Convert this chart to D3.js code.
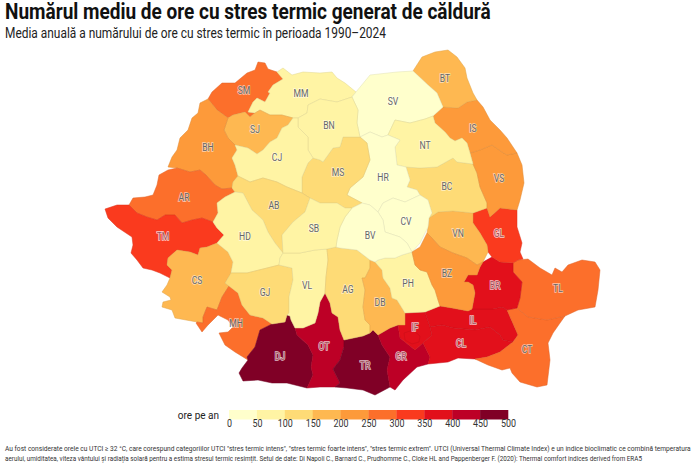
<!DOCTYPE html>
<html>
<head>
<meta charset="utf-8">
<script src="https://cdn.jsdelivr.net/npm/d3@7"></script>
<style>
  html, body { margin: 0; padding: 0; background: #fff; }
  svg { display: block; }
  text { font-family: Roboto, sans-serif; }
</style>
</head>
<body>
<svg id="chart" width="700" height="465"></svg>
<script>
// county codes and average hours per year
const countyCodes = ['SM','MM','SJ','BH','AR','TM','CS','MH','DJ','OT','TR','GR','IF','B','IL','CL','CT','TL','BR','GL','VN','BC','VS','IS','BT','SV','NT','HR','CV','MS','BN','CJ','AB','HD','GJ','VL','AG','DB','PH','BZ','BV','SB'];
const countyValues = [275,70,170,225,270,320,170,270,470,420,480,430,370,365,375,380,275,280,370,320,175,125,220,225,175,30,75,20,25,120,70,75,120,80,110,85,110,175,80,210,40,80];

const binEdges = [0,50,100,150,200,250,300,350,400,450,500];
const binColors = ['#ffffcc','#fff4a4','#fedb76','#feb851','#fd9a3a','#fc6f2b','#fa3a1e','#e2101b','#bd0026','#800026'];

const titleText = 'Numărul mediu de ore cu stres termic generat de căldură';
const subtitleText = 'Media anuală a numărului de ore cu stres termic în perioada 1990–2024';
const legendTitle = 'ore pe an';
const footerLines = [
  'Au fost considerate orele cu UTCI ≥ 32 °C, care corespund categoriilor UTCI "stres termic intens", "stres termic foarte intens", "stres termic extrem". UTCI (Universal Thermal Climate Index) e un indice bioclimatic ce combină temperatura',
  'aerului, umiditatea, viteza vântului și radiația solară pentru a estima stresul termic resimțit. Setul de date: Di Napoli C., Barnard C., Prudhomme C., Cloke HL and Pappenberger F. (2020): Thermal comfort indices derived from ERA5'
];

const countyOutlines = {
  SM: [[258,62],[265,63],[268,69],[277,72],[283,79],[273,85],[268,92],[270,93],[265,102],[257,98],[253,102],[248,112],[255,113],[250,117],[245,112],[233,115],[228,118],[217,110],[208,99],[212,92],[222,83],[235,83],[247,73],[255,70]],
  MM: [[277,72],[283,68],[292,75],[303,72],[320,73],[332,72],[337,78],[345,83],[356,92],[352,97],[337,102],[320,99],[308,105],[307,113],[298,118],[293,118],[282,115],[270,115],[260,110],[255,113],[248,112],[253,102],[257,98],[265,102],[270,93],[268,92],[273,85],[283,79]],
  SJ: [[255,113],[260,110],[270,115],[282,115],[293,118],[288,125],[282,128],[277,138],[270,142],[263,150],[257,154],[248,148],[235,145],[228,138],[224,130],[228,118],[233,115],[245,112],[250,117]],
  BH: [[208,99],[217,110],[228,118],[224,130],[228,138],[235,145],[237,150],[232,158],[235,165],[238,176],[233,182],[232,188],[222,189],[215,185],[206,175],[200,170],[190,172],[177,168],[168,167],[172,157],[177,150],[180,138],[188,130],[192,118],[198,113],[200,103]],
  AR: [[159,175],[168,170],[177,168],[190,172],[200,170],[206,175],[215,185],[222,189],[232,188],[235,192],[225,197],[217,203],[218,213],[213,222],[202,218],[192,220],[182,223],[175,215],[165,215],[157,220],[147,217],[137,213],[129,205],[133,198],[145,197],[153,195],[157,185]],
  TM: [[105,209],[117,205],[129,205],[137,213],[147,217],[157,220],[165,215],[175,215],[182,223],[192,220],[202,218],[213,222],[217,228],[224,235],[217,243],[207,247],[200,248],[198,255],[190,252],[177,250],[168,258],[167,265],[172,270],[170,278],[160,273],[152,270],[143,268],[137,260],[131,253],[133,245],[132,237],[117,227],[108,218]],
  CS: [[167,265],[168,258],[177,250],[190,252],[198,255],[200,248],[207,247],[217,243],[228,252],[233,262],[231,273],[225,283],[229,286],[222,297],[217,310],[207,307],[203,317],[203,323],[197,322],[175,318],[172,310],[162,307],[163,302],[171,300],[170,297],[162,292],[167,285],[170,278],[172,270]],
  MH: [[229,286],[238,293],[242,305],[250,315],[263,318],[272,324],[260,330],[255,347],[247,357],[248,360],[235,352],[225,345],[219,333],[228,332],[233,327],[228,320],[218,315],[208,325],[202,332],[196,323],[197,322],[203,323],[203,317],[207,307],[217,310],[222,297]],
  DJ: [[272,324],[285,322],[287,315],[290,316],[291,320],[295,328],[297,335],[308,345],[313,355],[311,367],[313,375],[307,388],[287,383],[272,383],[258,380],[243,381],[239,373],[242,368],[248,360],[247,357],[255,347],[260,330]],
  OT: [[295,328],[303,328],[315,323],[318,313],[320,302],[325,293],[330,303],[332,313],[338,317],[340,330],[344,340],[344,347],[340,360],[333,369],[340,383],[335,387],[320,387],[307,388],[313,375],[311,367],[313,355],[308,345],[297,335]],
  TR: [[344,340],[363,336],[370,333],[373,330],[378,335],[382,345],[390,357],[387,370],[390,387],[375,395],[363,390],[347,388],[335,387],[340,383],[333,369],[340,360],[344,347]],
  GR: [[378,335],[390,328],[398,325],[400,338],[415,350],[423,343],[430,357],[428,364],[417,367],[403,380],[395,390],[390,387],[387,370],[390,357],[382,345]],
  IF: [[405,313],[425,312],[430,327],[432,335],[423,343],[415,350],[400,338],[398,325],[405,325]],
  B:  [[404,333],[413,330],[420,336],[419,342],[412,344],[405,340]],
  IL: [[425,312],[440,306],[452,308],[468,311],[472,309],[493,309],[502,307],[507,310],[518,335],[513,342],[503,340],[500,335],[490,327],[475,330],[453,328],[442,325],[430,327]],
  CL: [[430,327],[442,325],[453,328],[475,330],[490,327],[500,335],[503,340],[513,342],[500,352],[487,357],[475,359],[458,358],[448,362],[428,364],[430,357],[423,343],[432,335]],
  CT: [[507,310],[517,308],[528,317],[547,320],[565,316],[560,323],[553,333],[548,343],[550,360],[547,385],[537,387],[520,382],[512,373],[510,368],[502,370],[488,365],[475,359],[487,357],[500,352],[513,342],[518,335]],
  TL: [[517,308],[520,298],[522,282],[513,272],[513,263],[518,260],[528,259],[540,268],[552,275],[555,268],[562,272],[568,265],[582,260],[595,262],[600,270],[598,290],[595,307],[578,310],[565,316],[547,320],[528,317]],
  BR: [[480,267],[483,262],[492,257],[500,262],[513,263],[513,272],[522,282],[520,298],[517,308],[507,310],[502,307],[493,309],[472,309],[475,293],[473,285],[468,282],[464,282],[468,275],[477,275]],
  GL: [[473,213],[487,208],[490,217],[500,208],[517,210],[517,227],[522,243],[520,252],[523,259],[518,260],[513,263],[500,262],[492,257],[488,252],[487,245],[480,233],[473,223]],
  VN: [[429,218],[438,212],[453,211],[473,213],[473,223],[480,233],[487,245],[488,252],[483,262],[477,265],[467,258],[453,253],[440,247],[432,238],[427,233],[428,227]],
  BC: [[406,167],[420,168],[437,167],[453,158],[457,162],[473,164],[477,173],[480,187],[487,203],[487,208],[473,213],[453,211],[438,212],[429,218],[432,213],[428,200],[420,195],[417,190],[407,187],[410,180]],
  VS: [[470,153],[473,164],[477,173],[480,187],[487,203],[487,208],[490,217],[500,208],[517,210],[520,200],[524,183],[522,165],[517,153],[507,155],[502,152],[492,145],[480,150]],
  IS: [[433,116],[443,107],[458,108],[467,102],[477,100],[483,107],[490,120],[500,130],[507,138],[517,153],[507,155],[502,152],[492,145],[480,150],[470,153],[467,143],[462,138],[455,141],[450,138],[445,132],[435,123]],
  BT: [[413,71],[422,57],[435,52],[448,50],[457,57],[465,68],[467,78],[473,93],[477,100],[467,102],[458,108],[443,107],[437,93],[428,85]],
  SV: [[356,92],[370,75],[397,72],[413,71],[428,85],[437,93],[443,107],[433,116],[425,119],[410,123],[395,120],[388,135],[382,137],[370,132],[360,137],[357,123],[358,110],[352,97]],
  NT: [[395,120],[410,123],[425,119],[433,116],[435,123],[445,132],[450,138],[455,141],[462,138],[467,143],[470,153],[473,164],[457,162],[453,158],[437,167],[420,168],[406,167],[397,165],[395,147],[400,140],[388,135]],
  HR: [[370,132],[382,137],[388,135],[400,140],[395,147],[397,165],[406,167],[410,180],[407,187],[417,190],[420,195],[405,202],[393,198],[383,203],[378,212],[370,205],[362,203],[347,195],[350,188],[363,177],[370,160],[367,143],[360,137]],
  CV: [[378,212],[383,203],[393,198],[405,202],[420,195],[428,200],[432,213],[429,218],[428,227],[420,243],[412,252],[407,243],[400,237],[385,232],[383,220]],
  MS: [[343,137],[360,137],[367,143],[370,160],[363,177],[350,188],[347,195],[362,203],[352,208],[345,208],[337,203],[320,203],[310,198],[302,193],[302,177],[308,163],[313,158],[320,160],[323,162],[333,148],[340,147]],
  BN: [[320,99],[337,102],[352,97],[358,110],[357,123],[360,137],[343,137],[340,147],[333,148],[323,162],[320,160],[313,158],[308,150],[308,137],[298,127],[298,118],[307,113],[308,105]],
  CJ: [[293,118],[298,118],[298,127],[308,137],[308,150],[313,158],[308,163],[302,177],[302,193],[287,187],[277,182],[263,178],[250,182],[238,176],[235,165],[232,158],[237,150],[235,145],[248,148],[257,154],[263,150],[270,142],[277,138],[282,128],[288,125]],
  AB: [[233,182],[238,176],[250,182],[263,178],[277,182],[287,187],[302,193],[310,198],[305,212],[293,222],[282,235],[283,253],[275,243],[268,232],[263,220],[252,210],[243,193],[235,192],[232,188]],
  HD: [[235,192],[243,193],[252,210],[263,220],[268,232],[275,243],[283,253],[280,258],[279,265],[263,269],[247,273],[231,273],[233,262],[228,252],[217,243],[224,235],[217,228],[213,222],[218,213],[217,203],[225,197]],
  GJ: [[225,283],[231,273],[247,273],[263,269],[279,265],[292,268],[293,280],[289,297],[289,313],[287,315],[285,322],[272,324],[263,318],[250,315],[242,305],[238,293],[229,286]],
  VL: [[279,265],[280,258],[283,253],[300,253],[315,250],[327,249],[328,260],[326,277],[325,293],[320,302],[318,313],[315,323],[303,328],[295,328],[291,320],[290,316],[287,315],[289,313],[289,297],[293,280],[292,268]],
  AG: [[327,249],[336,247],[340,248],[357,250],[370,260],[370,268],[365,278],[362,278],[365,290],[363,307],[365,320],[370,325],[370,333],[363,336],[344,340],[340,330],[338,317],[332,313],[330,303],[325,293],[326,277],[328,260]],
  DB: [[370,268],[370,260],[375,262],[382,270],[383,278],[390,288],[392,298],[397,300],[402,308],[405,313],[405,325],[398,325],[390,328],[378,335],[373,330],[370,333],[370,325],[365,320],[363,307],[365,290],[362,278],[365,278]],
  PH: [[375,262],[378,260],[385,258],[395,258],[402,255],[412,252],[415,265],[420,270],[427,272],[432,285],[435,290],[438,300],[440,306],[425,312],[405,313],[402,308],[397,300],[392,298],[390,288],[383,278],[382,270]],
  BZ: [[412,252],[420,247],[427,233],[432,238],[440,247],[453,253],[467,258],[477,265],[483,262],[480,267],[477,275],[468,275],[464,282],[468,282],[473,285],[475,293],[472,309],[468,311],[452,308],[440,306],[438,300],[435,290],[432,285],[427,272],[420,270],[415,265]],
  BV: [[352,208],[362,203],[370,205],[378,212],[383,220],[385,232],[400,237],[407,243],[412,252],[402,255],[395,258],[385,258],[378,260],[375,262],[370,260],[357,250],[340,248],[336,247],[337,240],[340,227],[345,217]],
  SB: [[310,198],[320,203],[337,203],[345,208],[352,208],[345,217],[340,227],[337,240],[336,247],[327,249],[315,250],[300,253],[283,253],[282,235],[293,222],[305,212]]
};

// label anchors, same order as countyCodes ('B' has no label)
const labelAnchors = [[244,90],[301,93],[255,129],[208,147],[184,197],[163,236],[197,280],[236,323],[280,356],[324,346],[365,365],[401,356],[415,327],null,[473,320],[461,343],[527,349],[558,288],[495,285],[499,233],[458,233],[447,186],[499,178],[473,128],[445,78],[393,101],[425,145],[383,177],[406,221],[338,172],[329,125],[277,157],[274,205],[245,236],[265,292],[307,285],[348,289],[380,302],[408,283],[447,273],[370,235],[314,228]];

const svg = d3.select('#chart');
const color = d3.scaleThreshold().domain(binEdges.slice(1, -1)).range(binColors);
const path = d3.geoPath(d3.geoIdentity());

const counties = countyCodes.map((code, i) => ({
  type: 'Feature',
  properties: { code, value: countyValues[i], label: labelAnchors[i] },
  geometry: { type: 'Polygon', coordinates: [countyOutlines[code].concat([countyOutlines[code][0]])] }
}));

svg.append('g').selectAll('path')
  .data(counties)
  .join('path')
  .attr('d', path)
  .attr('fill', d => color(d.properties.value))
  .attr('stroke', d => d3.color(color(d.properties.value)).darker(0.35))
  .attr('stroke-width', 0.5)
  .attr('stroke-linejoin', 'round');

// Roboto has no condensed face here, so narrow text with a horizontal scale
const squeeze = (sel, targetWidth) => sel.each(function () {
  const x = +this.getAttribute('x');
  const sx = targetWidth / this.getComputedTextLength();
  this.setAttribute('transform', `translate(${x} 0) scale(${sx} 1) translate(${-x} 0)`);
});
const narrow = (sel, sx) => sel.each(function () {
  const x = +this.getAttribute('x');
  this.setAttribute('transform', `translate(${x} 0) scale(${sx} 1) translate(${-x} 0)`);
});

svg.append('g').selectAll('text')
  .data(counties.filter(d => d.properties.label))
  .join('text')
  .attr('x', d => d.properties.label[0])
  .attr('y', d => d.properties.label[1])
  .attr('text-anchor', 'middle')
  .attr('dominant-baseline', 'central')
  .attr('font-size', 10)
  .attr('paint-order', 'stroke')
  .attr('stroke', '#ffffff')
  .attr('stroke-opacity', d => d.properties.value >= 300 ? 0.75 : 0.6)
  .attr('stroke-width', 1.5)
  .attr('fill', d => d.properties.value >= 300 ? '#a0505a' : '#666666')
  .text(d => d.properties.code)
  .call(narrow, 0.86);

// legend
const legendX = d3.scaleLinear().domain([0, 500]).range([229, 508]);
svg.append('g').selectAll('rect')
  .data(binColors)
  .join('rect')
  .attr('x', (d, i) => legendX(binEdges[i]))
  .attr('y', 410)
  .attr('width', (d, i) => legendX(binEdges[i + 1]) - legendX(binEdges[i]) + 0.3)
  .attr('height', 9.5)
  .attr('fill', d => d);

const axisG = svg.append('g')
  .attr('transform', 'translate(0,417)')
  .call(d3.axisBottom(legendX).tickValues(binEdges).tickSize(0).tickPadding(3));
axisG.select('.domain').remove();
axisG.selectAll('text')
  .attr('font-family', 'Roboto')
  .attr('font-size', 10.5)
  .attr('fill', '#333')
  .attr('x', 0)
  .call(narrow, 0.85);

svg.append('text').attr('x', 219).attr('y', 419)
  .attr('text-anchor', 'end').attr('font-size', 10).attr('fill', '#222')
  .text(legendTitle);

svg.append('text').attr('x', 5).attr('y', 19)
  .attr('font-size', 22).attr('font-weight', 700).attr('fill', '#111')
  .text(titleText)
  .call(squeeze, 486);
svg.append('text').attr('x', 5).attr('y', 38)
  .attr('font-size', 14).attr('fill', '#222')
  .text(subtitleText)
  .call(squeeze, 381);
svg.append('g').selectAll('text')
  .data(footerLines)
  .join('text')
  .attr('x', 5)
  .attr('y', (d, i) => 451 + i * 10)
  .attr('font-size', 7.4)
  .attr('fill', '#333')
  .text(d => d)
  .each(function (d, i) { d3.select(this).call(squeeze, i ? 637 : 686); });
</script>
</body>
</html>
